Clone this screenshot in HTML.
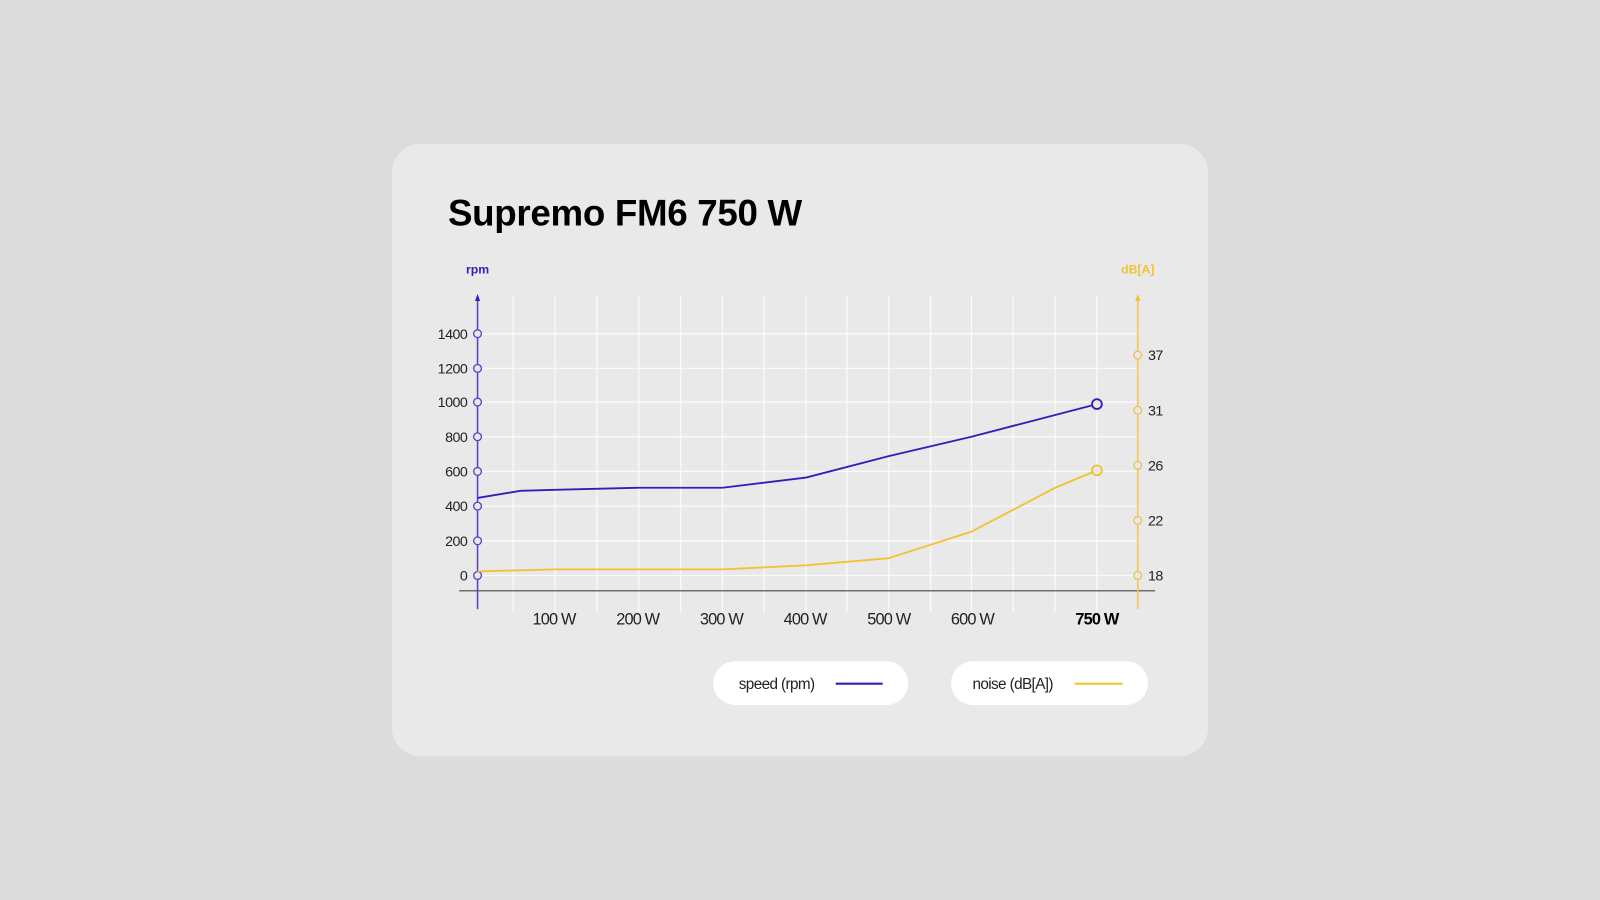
<!DOCTYPE html>
<html><head><meta charset="utf-8"><style>
html,body{margin:0;padding:0;background:#dcdcdc;}
svg{display:block;}
</style></head><body>
<svg width="1600" height="900" viewBox="0 0 1568 882" xmlns="http://www.w3.org/2000/svg" font-family="Liberation Sans, sans-serif">
<rect width="1568" height="882" fill="#dcdcdc"/>
<rect x="384" y="141" width="800" height="600" rx="28" fill="#e9e9e9"/>
<text x="439" y="221" font-size="36" font-weight="bold" fill="#000" letter-spacing="-0.3">Supremo FM6 750 W</text>
<text x="468" y="268" font-size="12" font-weight="bold" fill="#3a1ab8" text-anchor="middle">rpm</text>
<text x="1115" y="268" font-size="12" font-weight="bold" fill="#f2c230" text-anchor="middle">dB[A]</text>
<g stroke="#fafafa" stroke-width="1.3">
<line x1="503" y1="290" x2="503" y2="600"/><line x1="544" y1="290" x2="544" y2="600"/><line x1="585" y1="290" x2="585" y2="600"/><line x1="626" y1="290" x2="626" y2="600"/><line x1="667" y1="290" x2="667" y2="600"/><line x1="708" y1="290" x2="708" y2="600"/><line x1="749" y1="290" x2="749" y2="600"/><line x1="790" y1="290" x2="790" y2="600"/><line x1="830" y1="290" x2="830" y2="600"/><line x1="871" y1="290" x2="871" y2="600"/><line x1="912" y1="290" x2="912" y2="600"/><line x1="952" y1="290" x2="952" y2="600"/><line x1="993" y1="290" x2="993" y2="600"/><line x1="1034" y1="290" x2="1034" y2="600"/><line x1="1075" y1="290" x2="1075" y2="600"/>
<line x1="468" y1="327" x2="1115" y2="327"/><line x1="468" y1="361" x2="1115" y2="361"/><line x1="468" y1="394" x2="1115" y2="394"/><line x1="468" y1="428" x2="1115" y2="428"/><line x1="468" y1="462" x2="1115" y2="462"/><line x1="468" y1="496" x2="1115" y2="496"/><line x1="468" y1="530" x2="1115" y2="530"/><line x1="468" y1="564" x2="1115" y2="564"/>
</g>
<line x1="450" y1="579" x2="1132" y2="579" stroke="#444" stroke-width="1.2"/>
<line x1="468" y1="292" x2="468" y2="597" stroke="#5a3fc8" stroke-width="1.5"/>
<polygon points="468,288 465.5,295 470.5,295" fill="#3a1ab8"/>
<line x1="1115" y1="292" x2="1115" y2="597" stroke="#f2c94c" stroke-width="1.5"/>
<polygon points="1115,288 1112.5,295 1117.5,295" fill="#f2c230"/>
<g fill="#e9e9e9" stroke="#5a3fc8" stroke-width="1.3">
<circle cx="468" cy="327" r="3.8"/><circle cx="468" cy="361" r="3.8"/><circle cx="468" cy="394" r="3.8"/><circle cx="468" cy="428" r="3.8"/><circle cx="468" cy="462" r="3.8"/><circle cx="468" cy="496" r="3.8"/><circle cx="468" cy="530" r="3.8"/><circle cx="468" cy="564" r="3.8"/>
</g>
<g fill="#e9e9e9" stroke="#e8c45a" stroke-width="1.3">
<circle cx="1115" cy="348" r="3.8"/><circle cx="1115" cy="402" r="3.8"/><circle cx="1115" cy="456" r="3.8"/><circle cx="1115" cy="510" r="3.8"/><circle cx="1115" cy="564" r="3.8"/>
</g>
<g font-size="14" fill="#222" text-anchor="end" letter-spacing="-0.5">
<text x="458" y="332">1400</text><text x="458" y="366">1200</text><text x="458" y="399">1000</text><text x="458" y="433">800</text><text x="458" y="467">600</text><text x="458" y="501">400</text><text x="458" y="535">200</text><text x="458" y="569">0</text>
</g>
<g font-size="14" fill="#222" letter-spacing="-0.5">
<text x="1125" y="353">37</text><text x="1125" y="407">31</text><text x="1125" y="461">26</text><text x="1125" y="515">22</text><text x="1125" y="569">18</text>
</g>
<g font-size="16" fill="#222" text-anchor="middle" letter-spacing="-0.8">
<text x="543" y="612">100 W</text><text x="625" y="612">200 W</text><text x="707" y="612">300 W</text><text x="789" y="612">400 W</text><text x="871" y="612">500 W</text><text x="953" y="612">600 W</text>
<text x="1075" y="612" font-weight="bold" fill="#000">750 W</text>
</g>
<polyline fill="none" stroke="#3a1ab8" stroke-width="1.8" points="468,488 510,481 544,480 626,478 708,478 790,468 871,447 952,428 1075,396"/>
<polyline fill="none" stroke="#f2c230" stroke-width="1.8" points="468,560 544,558 626,558 708,558 790,554 871,547 952,521 1034,478 1075,461"/>
<circle cx="1075" cy="396" r="4.8" fill="#e9e9e9" stroke="#3a1ab8" stroke-width="1.8"/>
<circle cx="1075" cy="461" r="4.8" fill="#e9e9e9" stroke="#f2c230" stroke-width="1.8"/>
<rect x="699" y="648" width="191" height="43" rx="21.5" fill="#fff"/>
<text x="724" y="675" font-size="15" fill="#222" letter-spacing="-0.6">speed (rpm)</text>
<line x1="819" y1="670" x2="865" y2="670" stroke="#3a1ab8" stroke-width="2"/>
<rect x="932" y="648" width="193" height="43" rx="21.5" fill="#fff"/>
<text x="953" y="675" font-size="15" fill="#222" letter-spacing="-0.6">noise (dB[A])</text>
<line x1="1053" y1="670" x2="1100" y2="670" stroke="#f2c230" stroke-width="2"/>
</svg>
</body></html>
